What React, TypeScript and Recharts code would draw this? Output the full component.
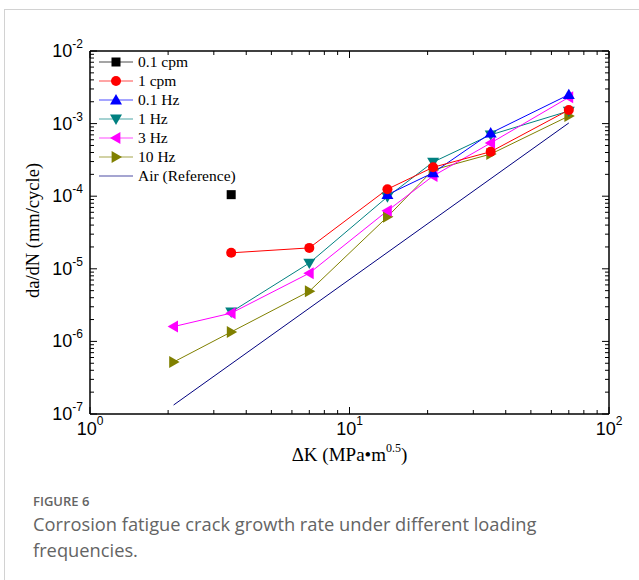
import React from 'react';
import { LineChart, Line, XAxis, YAxis, Legend } from 'recharts';

// ---- data (ΔK in MPa·m^0.5, da/dN in mm/cycle) ----
const xCpm01 = [3.5];
const yCpm01 = [1.05e-4];

const xCpm1 = [3.5, 7, 14, 21, 35, 70];
const yCpm1 = [1.66e-5, 1.94e-5, 1.25e-4, 2.5e-4, 4.1e-4, 1.54e-3];

const xHz01 = [14, 21, 35, 70];
const yHz01 = [1.05e-4, 2.1e-4, 7.4e-4, 2.5e-3];

const xHz1 = [3.5, 7, 14, 21, 35, 70];
const yHz1 = [2.54e-6, 1.2e-5, 9.8e-5, 2.95e-4, 7.0e-4, 1.49e-3];

const xHz3 = [2.1, 3.5, 7, 14, 21, 35, 70];
const yHz3 = [1.6e-6, 2.45e-6, 8.7e-6, 6.3e-5, 1.9e-4, 5.4e-4, 2.3e-3];

const xHz10 = [2.1, 3.5, 7, 14, 21, 35, 70];
const yHz10 = [5.2e-7, 1.35e-6, 4.9e-6, 5.2e-5, 2.3e-4, 3.8e-4, 1.27e-3];

const xAir = [2.1, 70];
const yAir = [1.33e-7, 1.02e-3];

const seriesNames = ['0.1 cpm', '1 cpm', '0.1 Hz', '1 Hz', '3 Hz', '10 Hz', 'Air (Reference)'];

// ---- tick values ----
const xTicks = [1, 2, 3, 4, 5, 6, 7, 8, 9, 10, 20, 30, 40, 50, 60, 70, 80, 90, 100];
const yTicks = [
  1e-7, 2e-7, 3e-7, 4e-7, 5e-7, 6e-7, 7e-7, 8e-7, 9e-7,
  1e-6, 2e-6, 3e-6, 4e-6, 5e-6, 6e-6, 7e-6, 8e-6, 9e-6,
  1e-5, 2e-5, 3e-5, 4e-5, 5e-5, 6e-5, 7e-5, 8e-5, 9e-5,
  1e-4, 2e-4, 3e-4, 4e-4, 5e-4, 6e-4, 7e-4, 8e-4, 9e-4,
  1e-3, 2e-3, 3e-3, 4e-3, 5e-3, 6e-3, 7e-3, 8e-3, 9e-3,
  1e-2,
];

const zip = (xs: number[], ys: number[]) => xs.map((x, i) => ({ x, y: ys[i] }));

const SANS = '"Liberation Sans", Arial, sans-serif';
const SERIF = '"Liberation Serif", "Times New Roman", serif';

const isMajor = (v: number) => {
  const l = Math.log10(v);
  return Math.abs(l - Math.round(l)) < 1e-6;
};
const expOf = (v: number) => String(Math.round(Math.log10(v)));

type Kind = 'square' | 'circle' | 'up' | 'down' | 'left' | 'right' | 'none';

const Marker = ({ kind, cx, cy, color }: { kind: Kind; cx: number; cy: number; color: string }) => {
  if (kind === 'none' || cx == null || cy == null) return null;
  const s = 5.5;
  if (kind === 'square') return <rect x={cx - 4.5} y={cy - 4.5} width={9} height={9} fill={color} />;
  if (kind === 'circle') return <circle cx={cx} cy={cy} r={5} fill={color} />;
  let pts = '';
  if (kind === 'up') pts = `${cx},${cy - s - 0.5} ${cx - s - 0.5},${cy + s * 0.8} ${cx + s + 0.5},${cy + s * 0.8}`;
  if (kind === 'down') pts = `${cx},${cy + s + 0.5} ${cx - s - 0.5},${cy - s * 0.8} ${cx + s + 0.5},${cy - s * 0.8}`;
  if (kind === 'left') pts = `${cx - s - 0.5},${cy} ${cx + s * 0.8},${cy - s - 0.5} ${cx + s * 0.8},${cy + s + 0.5}`;
  if (kind === 'right') pts = `${cx + s + 0.5},${cy} ${cx - s * 0.8},${cy - s - 0.5} ${cx - s * 0.8},${cy + s + 0.5}`;
  return <polygon points={pts} fill={color} />;
};

const series: { name: string; data: { x: number; y: number }[]; color: string; kind: Kind }[] = [
  { name: seriesNames[6], data: zip(xAir, yAir), color: '#00007f', kind: 'none' },
  { name: seriesNames[5], data: zip(xHz10, yHz10), color: '#808000', kind: 'right' },
  { name: seriesNames[3], data: zip(xHz1, yHz1), color: '#008080', kind: 'down' },
  { name: seriesNames[4], data: zip(xHz3, yHz3), color: '#ff00ff', kind: 'left' },
  { name: seriesNames[2], data: zip(xHz01, yHz01), color: '#0000ff', kind: 'up' },
  { name: seriesNames[1], data: zip(xCpm1, yCpm1), color: '#ff0000', kind: 'circle' },
  { name: seriesNames[0], data: zip(xCpm01, yCpm01), color: '#000000', kind: 'square' },
];

const legendOrder = [6, 5, 4, 2, 3, 1, 0]; // indices into `series` following seriesNames order

const XTickBottom = (props: any) => {
  const { x, y, payload } = props;
  const v = payload.value;
  const major = isMajor(v);
  return (
    <g>
      <line x1={x} x2={x} y1={y} y2={y - (major ? 7 : 4)} stroke="#000" strokeWidth={1} />
      {major && (
        <text x={x} y={y + 20.5} textAnchor="middle" fontFamily={SANS} fontSize={18} fill="#000">
          10<tspan dy={-9.5} fontSize={12}>{expOf(v)}</tspan>
        </text>
      )}
    </g>
  );
};

const XTickTop = (props: any) => {
  const { x, y, payload } = props;
  const major = isMajor(payload.value);
  return <line x1={x} x2={x} y1={y} y2={y + (major ? 7 : 4)} stroke="#000" strokeWidth={1} />;
};

const YTickLeft = (props: any) => {
  const { x, y, payload } = props;
  const v = payload.value;
  const major = isMajor(v);
  return (
    <g>
      <line x1={x} x2={x + (major ? 7 : 4)} y1={y} y2={y} stroke="#000" strokeWidth={1} />
      {major && (
        <text x={x - 7} y={y + 6} textAnchor="end" fontFamily={SANS} fontSize={18} fill="#000">
          10<tspan dy={-9} fontSize={12}>{expOf(v)}</tspan>
        </text>
      )}
    </g>
  );
};

const YTickRight = (props: any) => {
  const { x, y, payload } = props;
  const major = isMajor(payload.value);
  return <line x1={x} x2={x - (major ? 7 : 4)} y1={y} y2={y} stroke="#000" strokeWidth={1} />;
};

const renderLegend = () => (
  <svg width={170} height={135} style={{ display: 'block' }}>
    {legendOrder.map((si, i) => {
      const s = series[si];
      const cy = 10 + i * 19;
      return (
        <g key={s.name}>
          <line x1={2} x2={36} y1={cy} y2={cy} stroke={s.color} strokeWidth={1.2} opacity={0.7} />
          <Marker kind={s.kind} cx={19} cy={cy} color={s.color} />
          <text x={41} y={cy + 5} fontFamily={SERIF} fontSize={15.5} fill="#000">
            {s.name}
          </text>
        </g>
      );
    })}
  </svg>
);

const YLabel = (props: any) => {
  const vb = props.viewBox || {};
  const cx = 33;
  const cy = (vb.y ?? 51) + (vb.height ?? 363) / 2 - 2;
  return (
    <text x={cx} y={cy} transform={`rotate(-90 ${cx} ${cy})`} textAnchor="middle" dominantBaseline="central" fontFamily={SERIF} fontSize={18.5} fill="#000">
      da/dN (mm/cycle)
    </text>
  );
};

const XLabel = (props: any) => {
  const vb = props.viewBox || {};
  const cx = (vb.x ?? 90) + (vb.width ?? 519) / 2;
  const by = 461;
  return (
    <text x={cx} y={by} textAnchor="middle" fontFamily={SERIF} fontSize={19} fill="#000">
      ΔK (MPa•m<tspan dy={-9} fontSize={12}>0.5</tspan><tspan dy={9}>)</tspan>
    </text>
  );
};

export default function App() {
  return (
    <div style={{ position: 'absolute', left: 0, top: 0, width: 639, height: 580, background: '#fff', overflow: 'hidden' }}>
      <div
        style={{
          position: 'absolute',
          left: 4,
          top: 9,
          width: 700,
          height: 700,
          borderLeft: '1.5px solid #d2d2d2',
          borderTop: '1.5px solid #d2d2d2',
        }}
      />
      <div style={{ position: 'absolute', left: 0, top: 0 }}>
        <LineChart width={639} height={470} margin={{ top: 50, right: 29, bottom: 26, left: 30 }}>
          <XAxis
            xAxisId="bottom"
            dataKey="x"
            type="number"
            scale="log"
            domain={[1, 100]}
            allowDataOverflow
            ticks={xTicks}
            interval={0}
            tickSize={0}
            tickMargin={0}
            tickLine={false}
            tick={<XTickBottom />}
            axisLine={{ stroke: '#000', strokeWidth: 1.5 }}
            height={30}
            label={<XLabel />}
          />
          <XAxis
            xAxisId="top"
            orientation="top"
            dataKey="x"
            type="number"
            scale="log"
            domain={[1, 100]}
            allowDataOverflow
            ticks={xTicks}
            interval={0}
            tickSize={0}
            tickMargin={0}
            tickLine={false}
            tick={<XTickTop />}
            axisLine={{ stroke: '#000', strokeWidth: 1.5 }}
            height={1}
          />
          <YAxis
            yAxisId="left"
            type="number"
            scale="log"
            domain={[1e-7, 1e-2]}
            allowDataOverflow
            ticks={yTicks}
            interval={0}
            tickSize={0}
            tickMargin={0}
            tickLine={false}
            tick={<YTickLeft />}
            axisLine={{ stroke: '#000', strokeWidth: 1.5 }}
            width={60}
            label={<YLabel />}
          />
          <YAxis
            yAxisId="right"
            orientation="right"
            type="number"
            scale="log"
            domain={[1e-7, 1e-2]}
            allowDataOverflow
            ticks={yTicks}
            interval={0}
            tickSize={0}
            tickMargin={0}
            tickLine={false}
            tick={<YTickRight />}
            axisLine={{ stroke: '#000', strokeWidth: 1.5 }}
            width={1}
          />
          {series.map((s) => (
            <Line
              key={s.name}
              name={s.name}
              data={s.data}
              dataKey="y"
              xAxisId="bottom"
              yAxisId="left"
              type="linear"
              stroke={s.color}
              strokeWidth={1}
              isAnimationActive={false}
              activeDot={false}
              dot={
                s.kind === 'none'
                  ? false
                  : (p: any) => <Marker key={`${s.name}-${p.index}`} kind={s.kind} cx={p.cx} cy={p.cy} color={s.color} />
              }
            />
          ))}
          <Legend
            layout="vertical"
            align="center"
            verticalAlign="middle"
            content={renderLegend}
            wrapperStyle={{ position: 'absolute', left: 97, top: 52, width: 170, height: 135, bottom: 'auto', right: 'auto' }}
          />
        </LineChart>
      </div>
      <div
        style={{
          position: 'absolute',
          left: 33,
          top: 493,
          fontFamily: '"Open Sans", "Noto Sans", sans-serif',
          color: '#646464',
        }}
      >
        <div style={{ fontSize: 13, fontWeight: 600, lineHeight: '17px', letterSpacing: 0 }}>FIGURE 6</div>
        <div style={{ fontSize: 18.3, lineHeight: '26px', width: 580, marginTop: 1 }}>
          Corrosion fatigue crack growth rate under different loading
          <br />
          frequencies.
        </div>
      </div>
    </div>
  );
}
